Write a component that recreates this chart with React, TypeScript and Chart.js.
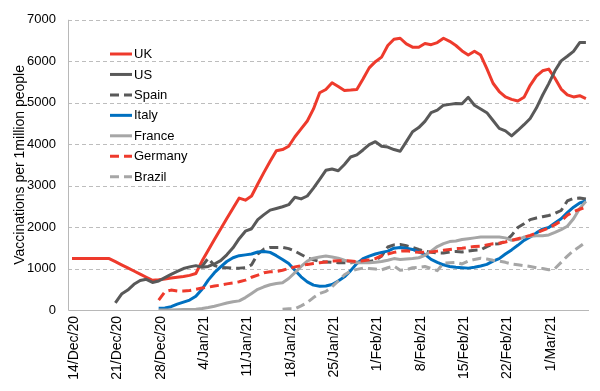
import React, { useEffect, useRef } from 'react';
import { Chart, registerables } from 'chart.js';

Chart.register(...registerables);

// Day 0 = 14/Dec/20; one value per day
const xTickDays = [0, 7, 14, 21, 28, 35, 42, 49, 56, 63, 70, 77];
const xTickLabels = ['14/Dec/20', '21/Dec/20', '28/Dec/20', '4/Jan/21', '11/Jan/21', '18/Jan/21', '25/Jan/21', '1/Feb/21', '8/Feb/21', '15/Feb/21', '22/Feb/21', '1/Mar/21'];
const yTicks = [0, 1000, 2000, 3000, 4000, 5000, 6000, 7000];

const seriesNames = ['UK', 'US', 'Spain', 'Italy', 'France', 'Germany', 'Brazil'];

const ukStart = 0;
const ukValues = [
  1240, 1240, 1240, 1240, 1240, 1240, 1240,
  1165, 1090, 1015, 940, 865, 790, 715,
  730, 750, 770, 790, 810, 835, 880,
  1180, 1440, 1700, 1955, 2205, 2455, 2700,
  2650, 2750, 3040, 3320, 3590, 3840, 3870, 3950, 4180, 4370, 4560, 4850, 5240, 5320,
  5480, 5390, 5295, 5305, 5320, 5570, 5840, 5990, 6100, 6380, 6530, 6555, 6420, 6340,
  6340, 6430, 6400, 6450, 6555, 6480, 6380, 6250, 6150, 6240, 6150, 5820, 5470, 5270,
  5140, 5080, 5040, 5130, 5420, 5640, 5770, 5810, 5590, 5330, 5190, 5140, 5170, 5100,
];

const usStart = 7;
const usValues = [
  170, 385, 480, 620, 710, 740, 665,
  700, 780, 860, 930, 1000, 1040, 1070,
  1030, 1050, 1110, 1190, 1330, 1500, 1720,
  1900, 1960, 2180, 2300, 2410, 2450, 2490,
  2540, 2720, 2680, 2750, 2940, 3150, 3370,
  3400, 3360, 3510, 3690, 3740, 3860, 3990,
  4060, 3950, 3930, 3870, 3830, 4060, 4300,
  4400, 4550, 4760, 4820, 4940, 4960, 4980,
  4975, 5130, 4940, 4850, 4760, 4570, 4380,
  4320, 4200, 4330, 4470, 4620, 4870, 5180,
  5460, 5770, 6010, 6120, 6240, 6450, 6450,
];

const spainStart = 21;
const spainValues = [
  1050, 1250, 1070, 1030, 1020, 1010, 1010,
  1020, 1090, 1350, 1470, 1510, 1510, 1510,
  1480, 1420, 1340, 1260, 1210, 1170, 1160,
  1150, 1140, 1140, 1140, 1150, 1160, 1170,
  1200, 1300, 1520, 1570, 1580, 1550, 1510,
  1460, 1420, 1390, 1380, 1375, 1400, 1410,
  1400, 1420, 1440, 1450, 1530, 1590, 1600,
  1660, 1800, 1990, 2080, 2180, 2220, 2250,
  2280, 2330, 2400, 2630, 2690, 2700, 2680,
];

const italyStart = 14;
const italyValues = [
  40, 50, 80, 140, 190, 240, 330,
  500, 720, 900, 1040, 1170, 1260, 1310,
  1330, 1350, 1400, 1410, 1390, 1310, 1220,
  1120, 960, 800, 680, 600, 575, 580,
  615, 700, 800, 950, 1120, 1240, 1300,
  1350, 1390, 1420, 1490, 1510, 1490, 1460,
  1400, 1340, 1220, 1150, 1090, 1050, 1030,
  1020, 1010, 1030, 1060, 1100, 1180, 1240,
  1350, 1450, 1560, 1680, 1760, 1860, 1950,
  1990, 2100, 2200, 2350, 2480, 2580, 2630,
];

const franceStart = 14;
const franceValues = [
  0, 0, 0, 5, 10, 15, 20,
  35, 60, 90, 130, 170, 200, 220,
  300, 400, 500, 560, 610, 640, 660,
  760, 900, 1050, 1180, 1250, 1280, 1300,
  1280, 1250, 1200, 1160, 1140, 1140, 1140,
  1150, 1170, 1200, 1240, 1220, 1230, 1240,
  1260, 1320, 1420, 1530, 1600, 1650, 1665,
  1700, 1720, 1740, 1760, 1760, 1760, 1760,
  1740, 1680, 1700, 1760, 1780, 1790, 1790,
  1810, 1870, 1940, 2020, 2200, 2450, 2620,
];

const germanyStart = 14;
const germanyValues = [
  240, 440, 480, 460, 460, 470, 500,
  530, 550, 580, 600, 630, 650, 680,
  720, 790, 840, 900, 920, 930, 960,
  1000, 1040, 1070, 1100, 1120, 1140, 1160,
  1180, 1190, 1190, 1180, 1170, 1190, 1210,
  1240, 1310, 1350, 1390, 1420, 1430, 1410,
  1390, 1390, 1400, 1420, 1440, 1460, 1480,
  1490, 1510, 1530, 1540, 1570, 1600, 1610,
  1640, 1680, 1720, 1760, 1800, 1860, 1920,
  1980, 2060, 2150, 2290, 2370, 2430, 2480,
];

const brazilStart = 34;
const brazilValues = [
  20, 30, 30, 100, 180, 300, 400,
  450, 560, 700, 850, 940, 980, 1010,
  1000, 990, 970, 1020, 1060, 960, 970,
  1020, 1030, 1050, 1000, 950, 1130, 1140,
  1150, 1110, 1180, 1220, 1250, 1230, 1200,
  1180, 1150, 1110, 1090, 1070, 1050, 1020,
  1000, 970, 1000, 1150, 1300, 1430, 1530,
  1640,
];

const RED = '#EE3A2C';
const DARK = '#595959';
const BLUE = '#0070C0';
const LIGHT = '#A6A6A6';
const GRID = '#BDBDBD';
const AXIS = '#B8B8B8';
const FONT = '"Liberation Sans", Arial, sans-serif';
const DASH = [9, 5];

function toPoints(start: number, values: number[]) {
  return values.map((v, i) => ({ x: start + i, y: v }));
}

// Dashed horizontal gridlines and solid axis lines, drawn under the series
const gridAndAxes = {
  id: 'gridAndAxes',
  beforeDatasetsDraw(chart: any) {
    const { ctx, chartArea, scales } = chart;
    const ys = scales.y;
    ctx.save();
    ctx.lineWidth = 1;
    ctx.strokeStyle = GRID;
    ctx.setLineDash([4, 3]);
    yTicks.forEach((v) => {
      if (v === 0) return;
      const py = Math.round(ys.getPixelForValue(v)) + 0.5;
      ctx.beginPath();
      ctx.moveTo(chartArea.left, py);
      ctx.lineTo(chartArea.right, py);
      ctx.stroke();
    });
    ctx.setLineDash([]);
    ctx.strokeStyle = AXIS;
    const left = Math.round(chartArea.left) + 0.5;
    const bottom = Math.round(ys.getPixelForValue(0)) + 0.5;
    ctx.beginPath();
    ctx.moveTo(left, chartArea.top);
    ctx.lineTo(left, bottom);
    ctx.lineTo(chartArea.right, bottom);
    ctx.stroke();
    ctx.restore();
  },
};

const insideLegend = {
  id: 'insideLegend',
  afterDraw(chart: any) {
    const ctx = chart.ctx;
    const ds = chart.data.datasets;
    ds.forEach((d: any, i: number) => {
      const y = 54 + i * 20.45;
      ctx.save();
      ctx.strokeStyle = d.borderColor;
      ctx.lineWidth = 3;
      ctx.setLineDash(d.borderDash || []);
      ctx.beginPath();
      ctx.moveTo(110, y);
      ctx.lineTo(132, y);
      ctx.stroke();
      ctx.setLineDash([]);
      ctx.fillStyle = '#000';
      ctx.font = '13px ' + FONT;
      ctx.textBaseline = 'middle';
      ctx.textAlign = 'left';
      ctx.fillText(d.label, 134, y + 0.5);
      ctx.restore();
    });
  },
};

export default function App() {
  const ref = useRef<HTMLCanvasElement | null>(null);

  useEffect(() => {
    if (!ref.current) return;
    const specs = [
      { start: ukStart, values: ukValues, color: RED, dash: [] as number[] },
      { start: usStart, values: usValues, color: DARK, dash: [] as number[] },
      { start: spainStart, values: spainValues, color: DARK, dash: DASH },
      { start: italyStart, values: italyValues, color: BLUE, dash: [] as number[] },
      { start: franceStart, values: franceValues, color: LIGHT, dash: [] as number[] },
      { start: germanyStart, values: germanyValues, color: RED, dash: DASH },
      { start: brazilStart, values: brazilValues, color: LIGHT, dash: DASH },
    ];
    const datasets = specs.map((s, i) => ({
      label: seriesNames[i],
      data: toPoints(s.start, s.values),
      borderColor: s.color,
      backgroundColor: s.color,
      borderDash: s.dash,
      borderWidth: 3,
      pointRadius: 0,
      pointHoverRadius: 0,
      tension: 0,
      fill: false,
      borderCapStyle: 'butt' as const,
      borderJoinStyle: 'round' as const,
      order: specs.length - i,
    }));

    const chart = new Chart(ref.current, {
      type: 'line',
      data: { datasets },
      options: {
        animation: false,
        responsive: false,
        devicePixelRatio: 1,
        parsing: false,
        layout: { padding: { top: 11, right: 11, left: 0, bottom: 0 } },
        plugins: {
          legend: { display: false },
          tooltip: { enabled: false },
        },
        scales: {
          x: {
            type: 'linear',
            position: 'bottom',
            min: -0.65,
            max: 83.5,
            afterBuildTicks: (scale: any) => {
              scale.ticks = xTickDays.map((v) => ({ value: v }));
            },
            afterFit: (scale: any) => {
              scale.height = 81;
            },
            grid: { display: false, drawTicks: false },
            border: { display: false },
            ticks: {
              autoSkip: false,
              maxRotation: 90,
              minRotation: 90,
              padding: 6,
              labelOffset: 2,
              color: '#000',
              font: { family: FONT, size: 14 },
              callback: (_v: any, index: number) => xTickLabels[index],
            },
          },
          y: {
            type: 'linear',
            min: 0,
            max: 7000,
            afterBuildTicks: (scale: any) => {
              scale.ticks = yTicks.map((v) => ({ value: v }));
            },
            afterFit: (scale: any) => {
              scale.width = 68;
            },
            grid: { display: false, drawTicks: false },
            border: { display: false },
            ticks: {
              padding: 12,
              color: '#000',
              font: { family: FONT, size: 13 },
              callback: (v: any) => String(v),
            },
            title: {
              display: true,
              text: 'Vaccinations per 1million people',
              color: '#000',
              font: { family: FONT, size: 14 },
              padding: { top: 12, bottom: 0 },
            },
          },
        },
      },
      plugins: [gridAndAxes, insideLegend],
    });
    return () => chart.destroy();
  }, []);

  return (
    <div style={{ position: 'absolute', left: 0, top: 0, width: 600, height: 391, background: '#fff' }}>
      <canvas ref={ref} width={600} height={391} style={{ width: 600, height: 391, display: 'block' }} />
    </div>
  );
}
